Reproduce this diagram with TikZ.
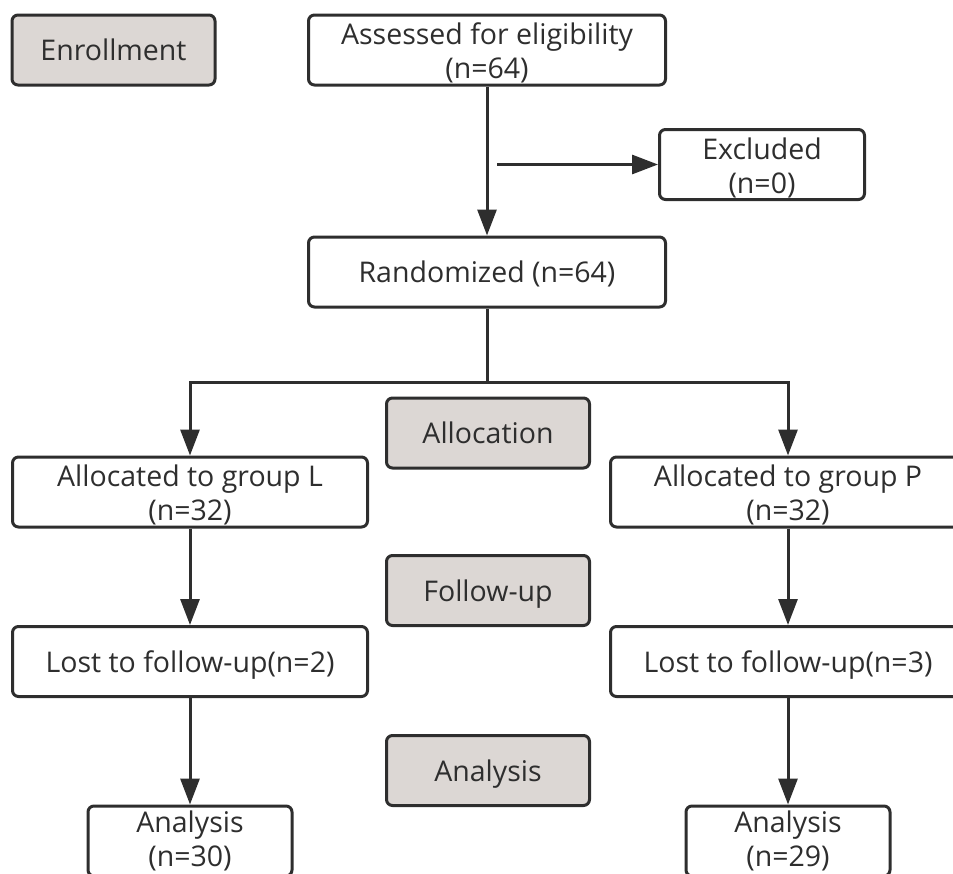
\documentclass[tikz,border=0pt]{standalone}
\usepackage{fontspec}
\setmainfont{Open Sans}
\usetikzlibrary{arrows.meta}
\definecolor{ink}{HTML}{2E2E2E}
\definecolor{phase}{HTML}{DCD7D4}
\newcommand\firstline{\rule{0pt}{28pt}}
\newcommand\lowline{\rule{0pt}{22pt}}
\begin{document}
\begin{tikzpicture}[x=1pt,y=-1pt,
  box/.style={draw=ink, line width=3pt, rounded corners=6pt, fill=white, text=ink,
    inner sep=0pt, font=\fontsize{28.5}{34}\selectfont},
  one/.style={box, text height=21.7pt, text depth=0pt},
  two/.style={box, align=center},
  phasebox/.style={one, fill=phase, minimum width=203pt, minimum height=70pt},
  arr/.style={draw=ink, line width=3pt, -{Triangle[length=26pt,width=19pt]}},
  ln/.style={draw=ink, line width=3pt}]
\useasboundingbox (0,0) rectangle (953,873);
\clip (0,0) rectangle (953,873);
% phase labels
\node[phasebox] (enroll) at (113.5,50) {Enrollment};
\node[phasebox] (allocation) at (488,433) {Allocation};
\node[phasebox] (followup) at (488,590.5) {Follow-up};
\node[phasebox] (analysis) at (488,770.5) {Analysis};
% main boxes
\node[two, minimum width=357pt, minimum height=70pt] (assess) at (487,50) {\firstline Assessed for eligibility\\(n=64)};
\node[two, minimum width=205pt, minimum height=70pt] (excl) at (762,164.5) {\firstline Excluded\\(n=0)};
\node[one, minimum width=357pt, minimum height=70pt] (rand) at (487,272) {Randomized (n=64)};
\node[two, minimum width=355pt, minimum height=70pt] (allocL) at (190,492) {\firstline Allocated to group L\\(n=32)};
\node[two, minimum width=355pt, minimum height=70pt] (allocP) at (788,492) {\firstline Allocated to group P\\(n=32)};
\node[one, minimum width=355pt, minimum height=70pt] (lostL) at (190,661.5) {Lost to follow-up(n=2)};
\node[one, minimum width=355pt, minimum height=70pt] (lostP) at (788,661.5) {Lost to follow-up(n=3)};
\node[two, minimum width=204pt, minimum height=70pt] (analL) at (190,841) {\lowline Analysis\\(n=30)};
\node[two, minimum width=204pt, minimum height=70pt] (analP) at (788,841) {\lowline Analysis\\(n=29)};
% connectors
\coordinate (exstart) at (497,164.5);
\coordinate (split) at (487,382);
\draw[arr] (assess.south) -- (rand.north);
\draw[arr] (exstart) -- (excl.west);
\draw[ln] (rand.south) -- (split);
\draw[arr] (split) -| (allocL.north);
\draw[arr] (split) -| (allocP.north);
\draw[arr] (allocL.south) -- (lostL.north);
\draw[arr] (allocP.south) -- (lostP.north);
\draw[arr] (lostL.south) -- (analL.north);
\draw[arr] (lostP.south) -- (analP.north);
\end{tikzpicture}
\end{document}
